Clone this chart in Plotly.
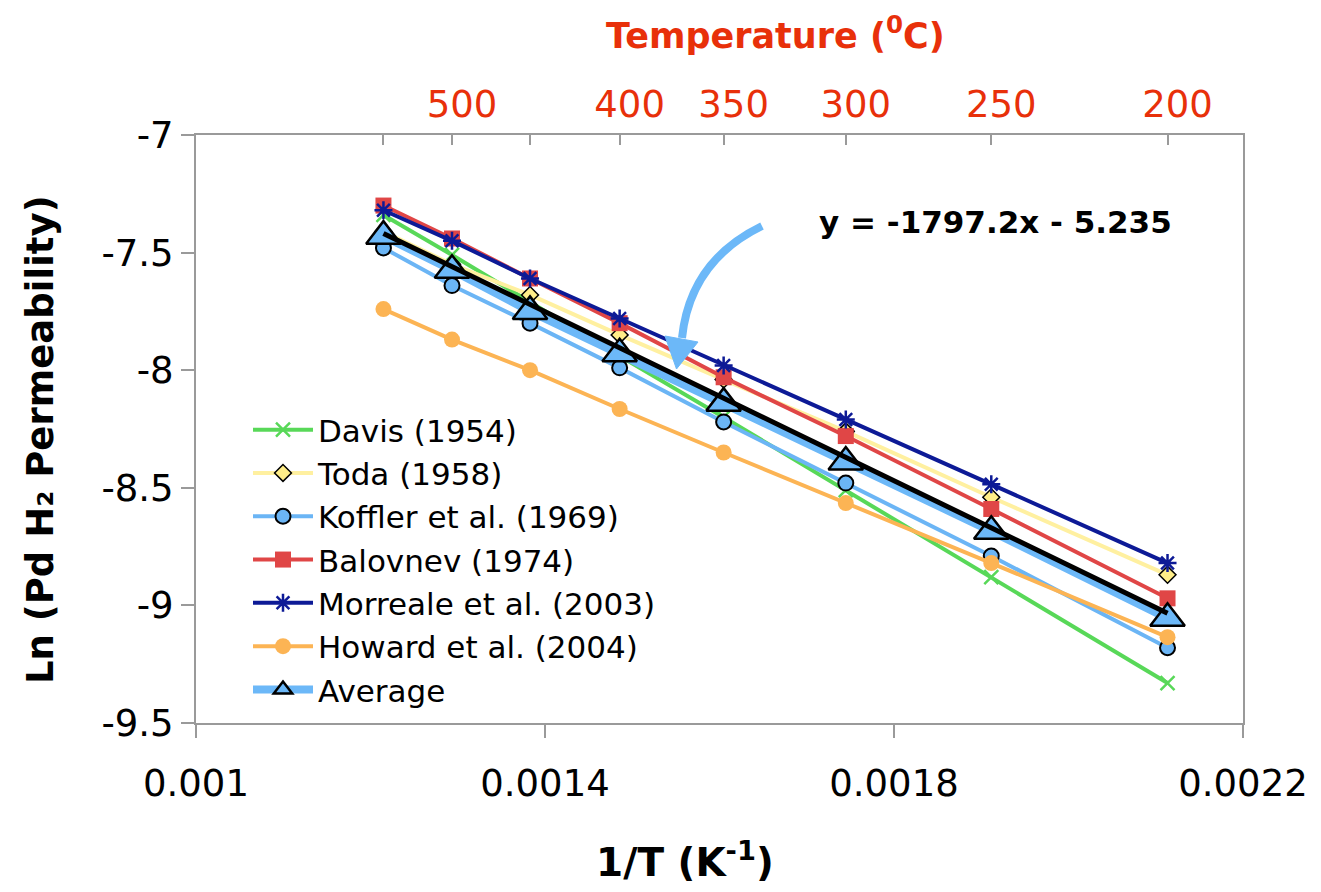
import plotly.graph_objects as go

# ---------------- data ----------------
temps_c = [550, 500, 450, 400, 350, 300, 250, 200]          # measurement temperatures (deg C)
inv_t = [1.0 / (t + 273.15) for t in temps_c]               # 1/T (K^-1)

davis     = [-7.34, -7.51, -7.71, -7.94, -8.20, -8.51, -8.88, -9.33]
toda      = [-7.41, -7.55, -7.68, -7.85, -8.04, -8.26, -8.54, -8.87]
koffler   = [-7.48, -7.64, -7.80, -7.99, -8.22, -8.48, -8.79, -9.18]
balovnev  = [-7.30, -7.44, -7.61, -7.80, -8.03, -8.28, -8.59, -8.97]
morreale  = [-7.32, -7.45, -7.61, -7.78, -7.98, -8.21, -8.485, -8.82]
howard    = [-7.74, -7.87, -8.00, -8.165, -8.35, -8.565, -8.82, -9.135]
average   = [-7.43, -7.575, -7.75, -7.93, -8.14, -8.39, -8.685, -9.055]

trend_slope = -1797.2
trend_intercept = -5.235

series_names = ["Davis (1954)", "Toda (1958)", "Koffler et al. (1969)", "Balovnev (1974)",
                "Morreale et al. (2003)", "Howard et al. (2004)", "Average"]

x_ticks = [0.001, 0.0014, 0.0018, 0.0022]
x_tick_labels = ["0.001", "0.0014", "0.0018", "0.0022"]
y_ticks = [-7, -7.5, -8, -8.5, -9, -9.5]
y_tick_labels = ["-7", "-7.5", "-8", "-8.5", "-9", "-9.5"]
top_ticks_c = [550, 500, 450, 400, 350, 300, 250, 200]
top_label_c = [500, 400, 350, 300, 250, 200]
top_tick_labels = ["500", "400", "350", "300", "250", "200"]

# ---------------- layout geometry ----------------
W, H = 1321, 892
L, R, T, B = 196, 78, 135, 169
XR = [0.001, 0.0022]
YR = [-9.5, -7]
FONT = "DejaVu Sans"
AXCOL = "#9a9a9a"
RED = "#E8300A"
pw, ph = W - L - R, H - T - B


def px(xp, yp):
    """pixel -> data coordinates (for decoration shapes only)"""
    x = XR[0] + (xp - L) / pw * (XR[1] - XR[0])
    y = YR[1] - (yp - T) / ph * (YR[1] - YR[0])
    return x, y


def paper(xp, yp):
    return (xp - L) / pw, (H - B - yp) / ph


fig = go.Figure()

styles = [
    dict(line=dict(color="#58D858", width=4),
         marker=dict(symbol="x-thin", size=14, line=dict(color="#58D858", width=2.5))),
    dict(line=dict(color="#FFF0A0", width=4),
         marker=dict(symbol="diamond", size=13, color="#FFEE88", line=dict(color="black", width=1.5))),
    dict(line=dict(color="#6BB5F5", width=4),
         marker=dict(symbol="circle", size=15, color="#6BB5F5", line=dict(color="black", width=2))),
    dict(line=dict(color="#E04646", width=4),
         marker=dict(symbol="square", size=16, color="#E04646")),
    dict(line=dict(color="#0D1A96", width=4),
         marker=dict(symbol="asterisk-open", size=15, line=dict(color="#1C3FE0", width=2.5))),
    dict(line=dict(color="#FCB454", width=4),
         marker=dict(symbol="circle", size=16, color="#FCB454")),
]
data_series = [davis, toda, koffler, balovnev, morreale, howard]

for name, ys, st in zip(series_names[:6], data_series, styles):
    fig.add_trace(go.Scatter(x=inv_t, y=ys, mode="lines+markers", name=name,
                             line=st["line"], marker=st["marker"]))

# Average series (thick light blue line, triangles)
fig.add_trace(go.Scatter(x=inv_t, y=average, mode="lines+markers", name=series_names[6],
                         line=dict(color="#6CB8F8", width=8),
                         marker=dict(symbol="triangle-up", size=30, color="#6CB8F8",
                                     line=dict(color="black", width=2.5))))

# linear trend line of the average (drawn on top)
tx = [inv_t[0], inv_t[-1]]
ty = [trend_slope * v + trend_intercept for v in tx]
fig.add_trace(go.Scatter(x=tx, y=ty, mode="lines", line=dict(color="black", width=5),
                         showlegend=False, hoverinfo="skip"))

# dummy traces on top axes
top_vals = [1.0 / (t + 273.15) for t in top_ticks_c]
lab_vals = [1.0 / (t + 273.15) for t in top_label_c]
fig.add_trace(go.Scatter(x=top_vals, y=[None] * len(top_vals), xaxis="x2", mode="markers",
                         showlegend=False, hoverinfo="skip"))
fig.add_trace(go.Scatter(x=lab_vals, y=[None] * len(lab_vals), xaxis="x3", mode="markers",
                         showlegend=False, hoverinfo="skip"))

# ---------------- arrow ----------------
p0 = px(762, 226)
c = px(690, 261)
p2 = px(682, 338)
fig.add_shape(type="path", xref="x", yref="y",
              path=f"M {p0[0]},{p0[1]} Q {c[0]},{c[1]} {p2[0]},{p2[1]}",
              line=dict(color="#6CB8F8", width=8))
h1, h2, h3 = px(665, 336), px(698, 342), px(676.5, 369)
fig.add_shape(type="path", xref="x", yref="y",
              path=f"M {h1[0]},{h1[1]} L {h2[0]},{h2[1]} L {h3[0]},{h3[1]} Z",
              fillcolor="#6CB8F8", line=dict(color="#6CB8F8", width=1))

# ---------------- annotations ----------------
ax_, ay_ = paper(995, 222)
fig.add_annotation(x=ax_, y=ay_, xref="paper", yref="paper", showarrow=False,
                   xanchor="center", yanchor="middle",
                   text="<b>y = -1797.2x - 5.235</b>", font=dict(family=FONT, size=31, color="black"))
ax_, ay_ = paper(775, 33)
fig.add_annotation(x=ax_, y=ay_, xref="paper", yref="paper", showarrow=False,
                   xanchor="center", yanchor="middle",
                   text="<b>Temperature (<sup>0</sup>C)</b>", font=dict(family=FONT, size=35, color=RED))
ax_, ay_ = paper(40, 440)
fig.add_annotation(x=ax_, y=ay_, xref="paper", yref="paper", showarrow=False, textangle=-90,
                   xanchor="center", yanchor="middle",
                   text="<b>Ln (Pd H₂ Permeability)</b>", font=dict(family=FONT, size=37, color="black"))
ax_, ay_ = paper(685, 860)
fig.add_annotation(x=ax_, y=ay_, xref="paper", yref="paper", showarrow=False,
                   xanchor="center", yanchor="middle",
                   text="<b>1/T (K<sup>-1</sup>)</b>", font=dict(family=FONT, size=39, color="black"))

lx, ly = paper(248, 403)
fig.update_layout(
    width=W, height=H, autosize=False,
    margin=dict(l=L, r=R, t=T, b=B),
    paper_bgcolor="white", plot_bgcolor="white",
    font=dict(family=FONT, color="black"),
    xaxis=dict(range=XR, tickvals=x_ticks, ticktext=x_tick_labels, ticks="outside", ticklen=13,
               tickwidth=2, tickcolor=AXCOL, showline=True, linecolor=AXCOL, linewidth=2,
               mirror=True, showgrid=False, zeroline=False,
               tickfont=dict(family=FONT, size=37, color="black"), ticklabelstandoff=14),
    xaxis2=dict(range=XR, overlaying="x", side="top", tickvals=top_vals, showticklabels=False,
                ticks="inside", ticklen=10, tickwidth=2, tickcolor=AXCOL, showline=False,
                showgrid=False, zeroline=False),
    xaxis3=dict(range=XR, overlaying="x", side="top", tickvals=lab_vals, ticktext=top_tick_labels,
                ticks="", showline=False, showgrid=False, zeroline=False, ticklabelshift=10,
                ticklabelstandoff=10, tickfont=dict(family=FONT, size=37, color=RED)),
    yaxis=dict(range=YR, tickvals=y_ticks, ticktext=y_tick_labels, ticks="outside", ticklen=13,
               tickwidth=2, tickcolor=AXCOL, showline=True, linecolor=AXCOL, linewidth=2,
               mirror=True, showgrid=False, zeroline=False,
               tickfont=dict(family=FONT, size=37, color="black")),
    legend=dict(x=lx, y=ly, xanchor="left", yanchor="top", bgcolor="rgba(0,0,0,0)",
                font=dict(family=FONT, size=31, color="black"), itemwidth=60,
                traceorder="normal"),
    showlegend=True,
)

fig.write_html("out.html")
